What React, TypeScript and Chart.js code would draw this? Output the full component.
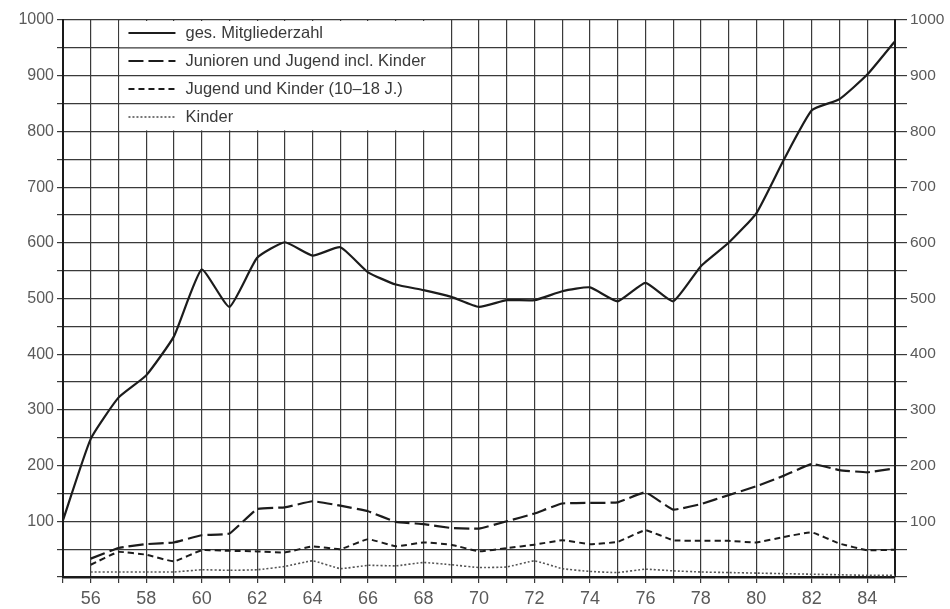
import React, { useEffect, useRef } from "react";
import { Chart, registerables } from "chart.js";

Chart.register(...registerables);

// Years 1955–1985 (x axis)
const firstYear = 55;
const lastYear = 85;

// ges. Mitgliederzahl, 1955–1985
const totalMembers = [
  102, 248, 322, 362, 432, 552, 485, 573, 601, 577, 592,
  547, 525, 515, 503, 485, 497, 497, 513, 520, 495,
  528, 495, 558, 600, 653, 750, 838, 858, 902, 962,
];

// Junioren und Jugend incl. Kinder, 1956–1985
const juniorsYouth = [
  33, 52, 59, 62, 75, 78, 122, 125, 136, 128,
  118, 99, 95, 88, 87, 100, 114, 132, 133, 134,
  152, 121, 131, 147, 163, 182, 203, 192, 188, 195,
];

// Jugend und Kinder (10–18 J.), 1956–1985
const youthChildren = [
  22, 45, 40, 28, 48, 47, 46, 44, 55, 50,
  68, 55, 62, 58, 46, 52, 58, 66, 59, 63,
  84, 66, 65, 65, 62, 72, 80, 60, 48, 49,
];

// Kinder, 1956–1985
const children = [
  9, 9, 9, 9, 13, 12, 13, 19, 29, 15,
  21, 20, 26, 22, 17, 18, 29, 15, 10, 8,
  14, 11, 9, 8, 7, 6, 5, 4, 3, 3,
];

const seriesLabels = [
  "ges. Mitgliederzahl",
  "Junioren und Jugend incl. Kinder",
  "Jugend und Kinder (10–18 J.)",
  "Kinder",
];

const yLabelValues = [100, 200, 300, 400, 500, 600, 700, 800, 900, 1000];

const GRID = "#3a3a3a";
const AXIS = "#1a1a1a";
const TICK_TEXT = "#5a5a5a";
const FONT = "'Liberation Sans', Arial, sans-serif";

const toPoints = (vals: number[], start: number) =>
  vals.map((v, i) => ({ x: start + i, y: v }));

const legendBox = {
  id: "legendBox",
  beforeDatasetsDraw(chart: any) {
    const { ctx } = chart;
    const xs = chart.scales.x;
    const ys = chart.scales.y;
    const x0 = xs.getPixelForValue(57);
    const x1 = xs.getPixelForValue(69);
    const yT = ys.getPixelForValue(1000);
    const yB = ys.getPixelForValue(800);
    ctx.save();
    ctx.fillStyle = "#fff";
    ctx.fillRect(x0 + 1, yT + 1, x1 - x0 - 2, yB - yT - 2);
    ctx.strokeStyle = GRID;
    ctx.lineWidth = 1.2;
    for (const v of [950, 900, 850]) {
      const py = ys.getPixelForValue(v);
      ctx.beginPath();
      ctx.moveTo(x0, py);
      ctx.lineTo(x1, py);
      ctx.stroke();
    }
    chart.data.datasets.forEach((ds: any, i: number) => {
      const rowY = yT + 13 + i * 28;
      ctx.strokeStyle = ds.borderColor;
      ctx.lineWidth = ds.borderWidth;
      ctx.setLineDash(ds.borderDash || []);
      ctx.beginPath();
      ctx.moveTo(x0 + 10, rowY);
      ctx.lineTo(x0 + 57, rowY);
      ctx.stroke();
      ctx.setLineDash([]);
      ctx.fillStyle = "#3a3a3a";
      ctx.font = `16.5px ${FONT}`;
      ctx.textBaseline = "middle";
      ctx.textAlign = "left";
      ctx.fillText(ds.label, x0 + 67, rowY);
    });
    ctx.restore();
  },
};

export default function App() {
  const ref = useRef<HTMLCanvasElement>(null);

  useEffect(() => {
    document.body.style.margin = "0";
    const canvas = ref.current;
    if (!canvas) return;

    const yTick = (v: any) => (yLabelValues.includes(Number(v)) ? String(v) : "");

    const chart = new Chart(canvas, {
      type: "line",
      data: {
        datasets: [
          {
            label: seriesLabels[0],
            data: toPoints(totalMembers, firstYear),
            borderColor: "#1c1c1c",
            borderWidth: 2.2,
            pointRadius: 0,
            tension: 0.15,
          },
          {
            label: seriesLabels[1],
            data: toPoints(juniorsYouth, firstYear + 1),
            borderColor: "#1c1c1c",
            borderWidth: 2.2,
            borderDash: [15, 5],
            pointRadius: 0,
            tension: 0.1,
          },
          {
            label: seriesLabels[2],
            data: toPoints(youthChildren, firstYear + 1),
            borderColor: "#1c1c1c",
            borderWidth: 2,
            borderDash: [6, 4],
            pointRadius: 0,
            tension: 0.1,
          },
          {
            label: seriesLabels[3],
            data: toPoints(children, firstYear + 1),
            borderColor: "#555",
            borderWidth: 1.6,
            borderDash: [2, 2],
            pointRadius: 0,
            tension: 0.1,
          },
        ],
      },
      options: {
        responsive: false,
        animation: false,
        devicePixelRatio: 1,
        layout: { padding: { top: 20, left: 0, right: 0, bottom: 0 } },
        plugins: {
          legend: { display: false },
          tooltip: { enabled: false },
        },
        scales: {
          x: {
            type: "linear",
            min: firstYear,
            max: lastYear,
            position: "bottom",
            ticks: {
              stepSize: 1,
              autoSkip: false,
              maxRotation: 0,
              color: TICK_TEXT,
              font: { family: FONT, size: 18 },
              padding: 5,
              callback: (v: any) =>
                Number(v) % 2 === 0 ? String(v) : "",
            },
            grid: { color: GRID, lineWidth: 1.2, tickLength: 6, tickColor: GRID },
            border: { color: AXIS, width: 2.5 },
            afterFit: (s: any) => {
              s.height = 32;
            },
          },
          y: {
            type: "linear",
            min: 0,
            max: 1000,
            position: "left",
            ticks: {
              stepSize: 50,
              autoSkip: false,
              color: TICK_TEXT,
              font: { family: FONT, size: 16 },
              padding: 3,
              callback: yTick,
            },
            grid: { color: GRID, lineWidth: 1.2, tickLength: 6, tickColor: GRID },
            border: { color: AXIS, width: 2 },
            afterFit: (s: any) => {
              s.width = 63;
            },
          },
          y2: {
            type: "linear",
            min: 0,
            max: 1000,
            position: "right",
            ticks: {
              stepSize: 50,
              autoSkip: false,
              color: TICK_TEXT,
              font: { family: FONT, size: 15.5 },
              padding: 3,
              callback: yTick,
            },
            grid: {
              drawOnChartArea: false,
              tickLength: 12,
              tickColor: GRID,
              lineWidth: 1.2,
            },
            border: { color: AXIS, width: 2 },
            afterFit: (s: any) => {
              s.width = 55;
            },
          },
        },
      },
      plugins: [legendBox],
    } as any);

    return () => chart.destroy();
  }, []);

  return (
    <div style={{ width: 950, height: 609, background: "#fff" }}>
      <canvas ref={ref} width={950} height={609} />
    </div>
  );
}
